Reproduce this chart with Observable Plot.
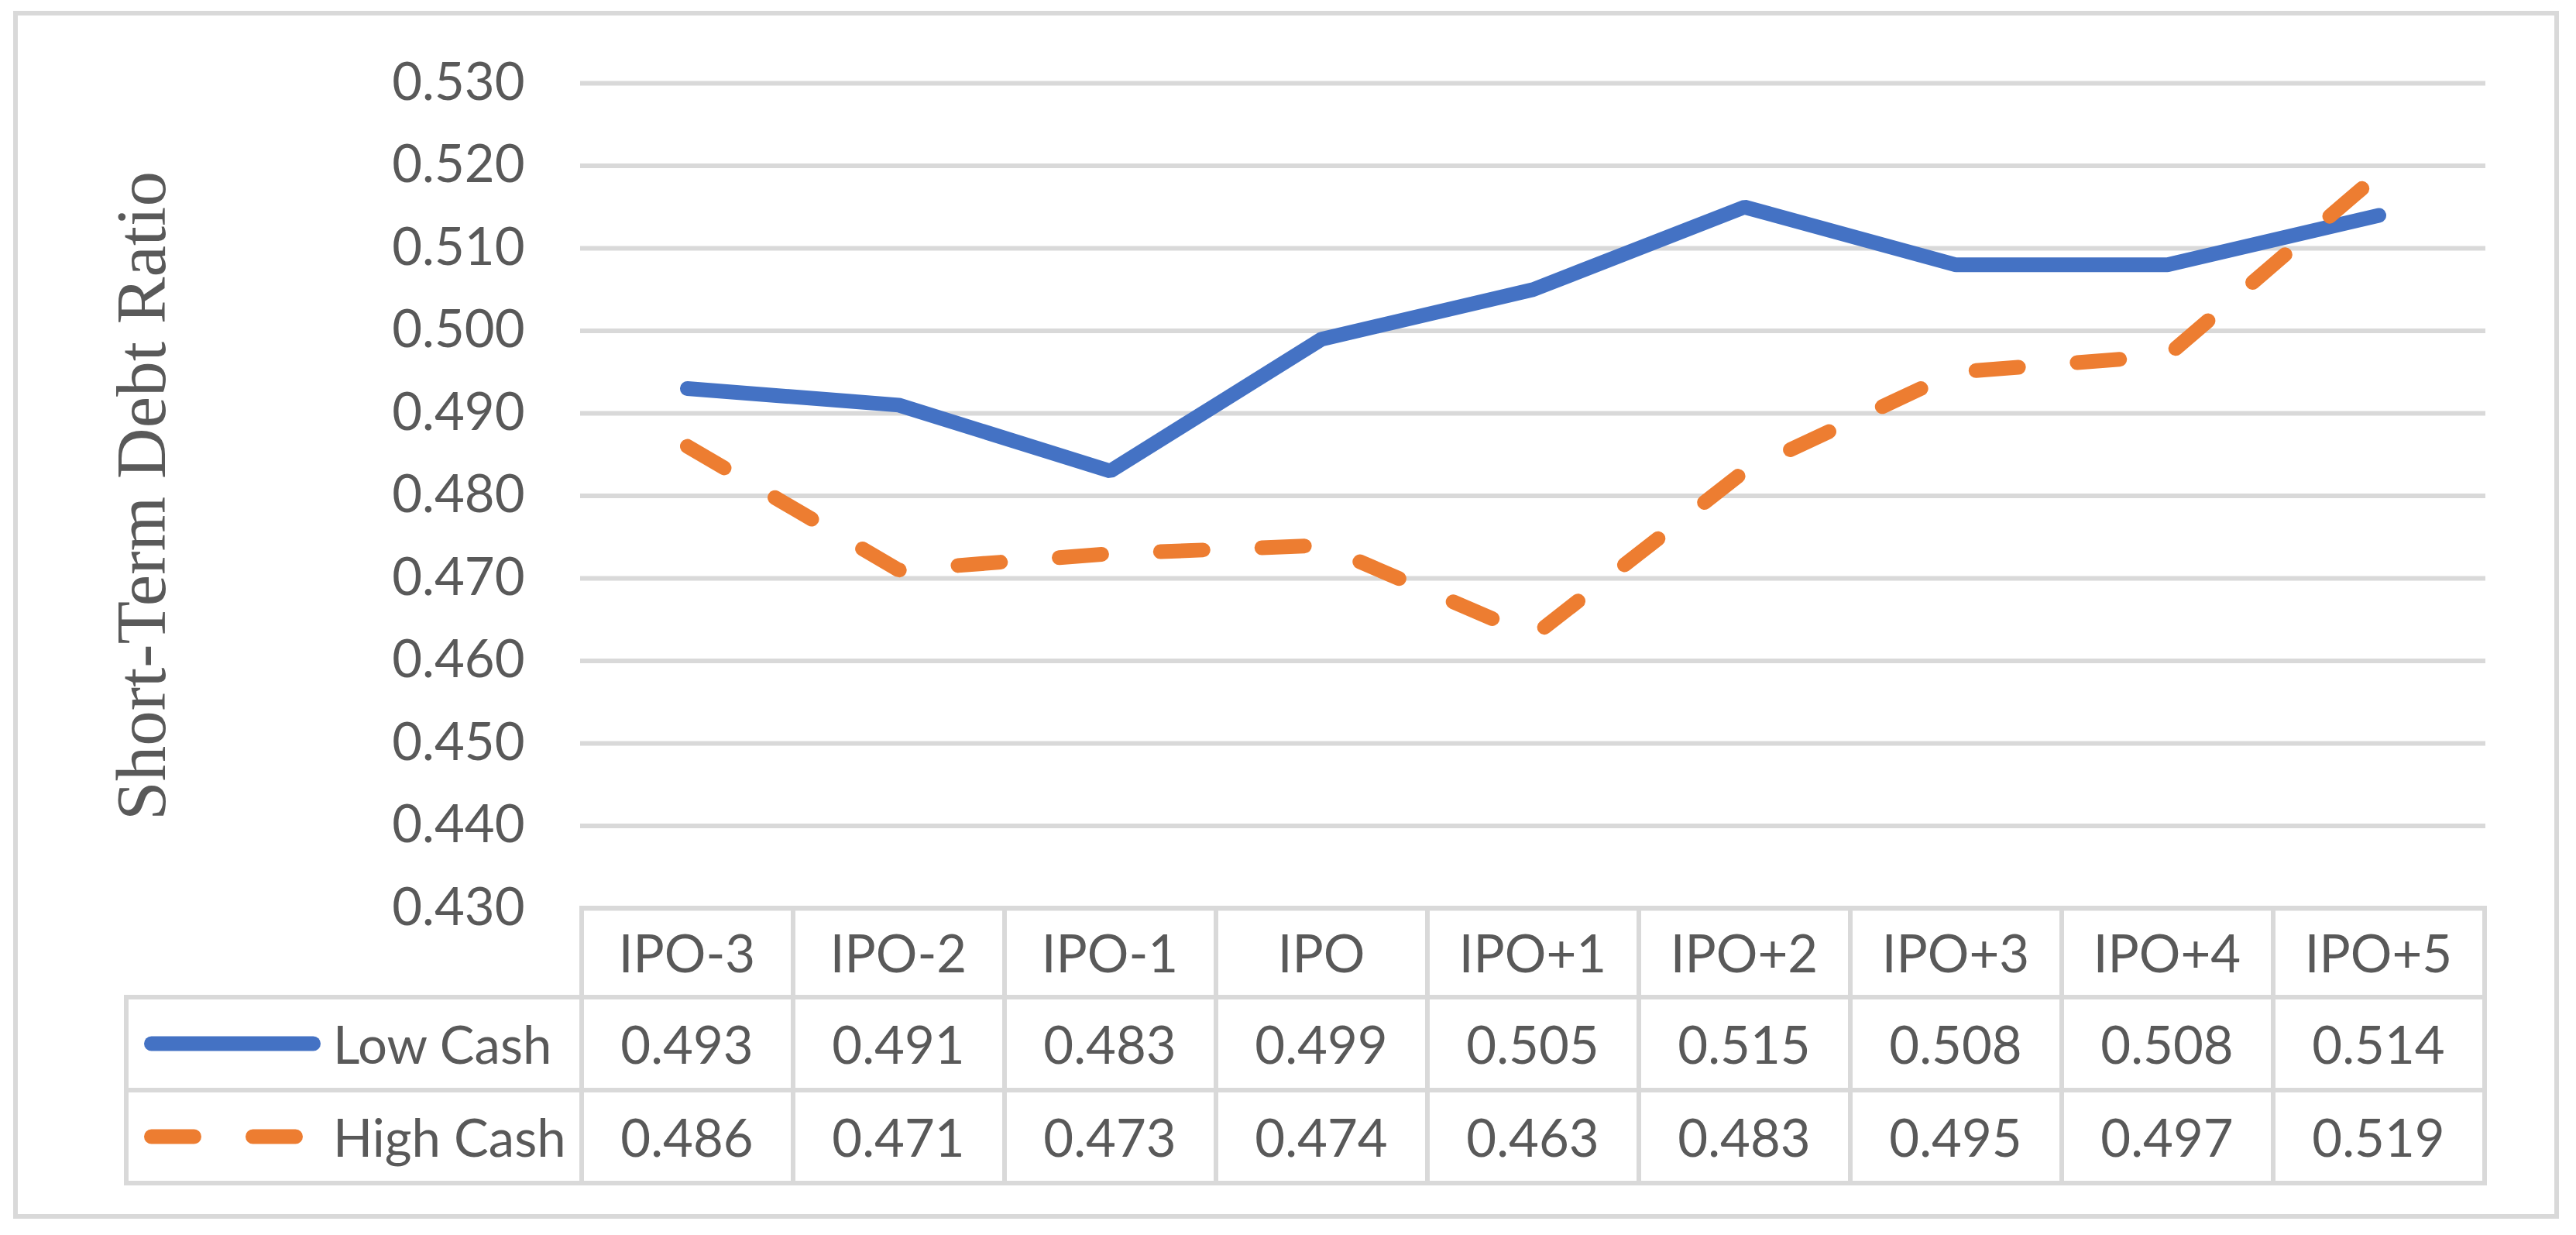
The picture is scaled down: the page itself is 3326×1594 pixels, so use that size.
<!DOCTYPE html>
<html><head><meta charset="utf-8">
<script src="https://cdn.jsdelivr.net/npm/d3@7"></script>
<script src="https://cdn.jsdelivr.net/npm/@observablehq/plot@0.6"></script>
<style>
html,body{margin:0;padding:0;background:#fff;}
#wrap{position:relative;width:3326px;height:1594px;overflow:hidden;font-family:Lato,"Open Sans",sans-serif;color:#595959;}
#frame{position:absolute;left:17px;top:14px;width:3287px;height:1559px;box-sizing:border-box;border:6px solid #d9d9d9;}
#chart{position:absolute;left:0;top:0;}
.cell{position:absolute;display:flex;align-items:center;justify-content:center;font-size:67px;line-height:1;white-space:nowrap;color:#595959;}
.line{position:absolute;background:#d9d9d9;}
</style></head>
<body><div id="wrap"><div id="frame"></div><div id="chart"></div><div id="table"></div></div>
<script>
const categories = ["IPO-3","IPO-2","IPO-1","IPO","IPO+1","IPO+2","IPO+3","IPO+4","IPO+5"];
const seriesNames = ["Low Cash","High Cash"];
const lowCash = [0.493,0.491,0.483,0.499,0.505,0.515,0.508,0.508,0.514];
const highCash = [0.486,0.471,0.473,0.474,0.463,0.483,0.495,0.497,0.519];
const yTicks = [0.43,0.44,0.45,0.46,0.47,0.48,0.49,0.50,0.51,0.52,0.53];
const yTitle = "Short-Term Debt Ratio";
const colors = ["#4472C4","#ED7D31"];
const dashes = [null, "55,76"];

const seriesValues = [lowCash, highCash];
const data = seriesNames.flatMap((s, si) => categories.map((c, i) => ({cat: c, series: s, value: seriesValues[si][i]})));

const chart = Plot.plot({
  width: 3326, height: 1180,
  marginLeft: 749, marginRight: 117, marginTop: 107, marginBottom: 8,
  style: {background: "transparent", fontFamily: "Lato, 'Open Sans', sans-serif", color: "#595959", overflow: "visible"},
  x: {type: "point", domain: categories, padding: 0.5, axis: null},
  y: {domain: [0.43, 0.53], axis: null},
  marks: [
    Plot.gridY(yTicks, {stroke: "#d9d9d9", strokeOpacity: 1, strokeWidth: 6}),
    Plot.axisY(yTicks, {tickSize: 0, tickPadding: 72, tickFormat: d3.format(".3f"), fontSize: 67, fill: "#595959", label: null}),
    Plot.text([yTitle], {text: d => d, frameAnchor: "left", textAnchor: "middle", rotate: -90, dx: -537, lineAnchor: "bottom", fontSize: 91, fontFamily: "'Liberation Serif', serif", fill: "#595959"}),
    ...seriesNames.map((s, si) => Plot.line(data.filter(d => d.series === s), {
      x: "cat", y: "value", stroke: colors[si], strokeWidth: 19,
      strokeLinejoin: "miter", strokeLinecap: "round", strokeDasharray: dashes[si]
    }))
  ]
});
document.getElementById("chart").appendChild(chart);

// data table below the plot, aligned to the x scale
const xs = chart.scale("x");
const colW = xs.apply(categories[1]) - xs.apply(categories[0]);
const colLeft = c => xs.apply(c) - colW / 2;
const tableLeft = 163;
const dataLeft = colLeft(categories[0]);
const dataRight = colLeft(categories[categories.length - 1]) + colW;
const rowEdges = [1172, 1287, 1407, 1527];
const lw = 6;
const tbl = document.getElementById("table");
function addLine(x1, y1, x2, y2) {
  const d = document.createElement("div");
  d.className = "line";
  if (y1 === y2) { d.style.left = (x1 - lw/2) + "px"; d.style.top = (y1 - lw/2) + "px"; d.style.width = (x2 - x1 + lw) + "px"; d.style.height = lw + "px"; }
  else { d.style.left = (x1 - lw/2) + "px"; d.style.top = (y1 - lw/2) + "px"; d.style.width = lw + "px"; d.style.height = (y2 - y1 + lw) + "px"; }
  tbl.appendChild(d);
}
function addCell(x, y, w, h, text, just) {
  const d = document.createElement("div");
  d.className = "cell";
  d.style.left = x + "px"; d.style.top = y + "px"; d.style.width = w + "px"; d.style.height = h + "px";
  if (just) d.style.justifyContent = just;
  d.textContent = text;
  tbl.appendChild(d);
  return d;
}
// horizontal lines
addLine(dataLeft, rowEdges[0], dataRight, rowEdges[0]);
for (let r = 1; r < rowEdges.length; r++) addLine(tableLeft, rowEdges[r], dataRight, rowEdges[r]);
// vertical lines
addLine(tableLeft, rowEdges[1], tableLeft, rowEdges[3]);
categories.forEach(c => addLine(colLeft(c), rowEdges[0], colLeft(c), rowEdges[3]));
addLine(dataRight, rowEdges[0], dataRight, rowEdges[3]);
// header
categories.forEach(c => addCell(colLeft(c), rowEdges[0], colW, rowEdges[1] - rowEdges[0], c));
// rows
seriesNames.forEach((s, si) => {
  const y0 = rowEdges[si + 1], h = rowEdges[si + 2] - y0;
  categories.forEach((c, i) => addCell(colLeft(c), y0, colW, h, d3.format(".3f")(seriesValues[si][i])));
  // legend label
  addCell(430, y0, dataLeft - 430, h, s, "flex-start");
  // swatch
  const svg = d3.create("svg").attr("width", 260).attr("height", 40)
    .style("position", "absolute").style("left", "176px").style("top", (y0 + h/2 - 20) + "px");
  svg.append("line").attr("x1", 19.5).attr("x2", 228.5).attr("y1", 20).attr("y2", 20)
    .attr("stroke", colors[si]).attr("stroke-width", 19).attr("stroke-linecap", "round")
    .attr("stroke-dasharray", dashes[si]);
  tbl.appendChild(svg.node());
});
</script>
</body></html>
